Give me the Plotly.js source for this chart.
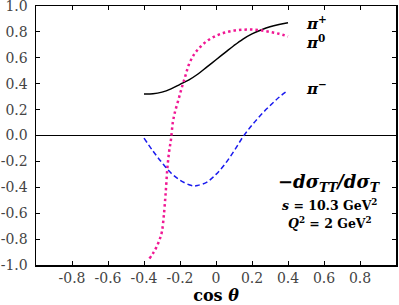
<!DOCTYPE html>
<html><head><meta charset="utf-8">
<script src="https://cdn.plot.ly/plotly-3.0.1.min.js"></script>
<style>html,body{margin:0;padding:0;background:#fff}</style>
</head><body><div id="chart" style="width:399px;height:305px"></div>
<script>
const xPiPlus = [-0.4,-0.35,-0.3,-0.25,-0.2,-0.15,-0.1,-0.05,0,0.05,0.1,0.15,0.2,0.25,0.3,0.35,0.4];
const yPiPlus = [0.32,0.322,0.335,0.36,0.395,0.43,0.475,0.53,0.585,0.64,0.695,0.745,0.785,0.815,0.84,0.857,0.87];

const xPiZero = [-0.37,-0.35,-0.33,-0.31,-0.30,-0.29,-0.28,-0.27,-0.26,-0.25,-0.24,-0.23,-0.21,-0.19,-0.17,-0.15,-0.12,-0.09,-0.05,0,0.05,0.1,0.15,0.2,0.25,0.3,0.35,0.4];
const yPiZero = [-0.95,-0.91,-0.86,-0.79,-0.74,-0.62,-0.45,-0.25,-0.12,-0.03,0.10,0.17,0.27,0.37,0.46,0.55,0.63,0.68,0.73,0.77,0.795,0.81,0.817,0.818,0.812,0.80,0.785,0.765];

const xPiMinus = [-0.4,-0.35,-0.3,-0.25,-0.2,-0.15,-0.12,-0.1,-0.05,0,0.05,0.1,0.15,0.2,0.25,0.3,0.35,0.4];
const yPiMinus = [-0.02,-0.12,-0.21,-0.29,-0.345,-0.38,-0.39,-0.385,-0.36,-0.30,-0.22,-0.12,-0.01,0.08,0.16,0.23,0.295,0.35];

const xTickVals = [-0.8,-0.6,-0.4,-0.2,0,0.2,0.4,0.6,0.8];
const xTickText = ["-0.8","-0.6","-0.4","-0.2","0","0.2","0.4","0.6","0.8"];
const yTickVals = [1,0.8,0.6,0.4,0.2,0,-0.2,-0.4,-0.6,-0.8,-1];
const yTickText = ["1.0","0.8","0.6","0.4","0.2","0.0","-0.2","-0.4","-0.6","-0.8","-1.0"];

const seriesLabels = ["<i>π</i><sup>+</sup>","<i>π</i><sup>0</sup>","<i>π</i><sup>−</sup>"];
const labelX = [0.49,0.49,0.49];
const labelY = [0.87,0.72,0.37];

const serif = "DejaVu Serif";

const traces = [
  {x:xPiPlus,y:yPiPlus,mode:'lines',line:{color:'#000',width:1.5,shape:'spline'},hoverinfo:'skip'},
  {x:xPiZero,y:yPiZero,mode:'lines',line:{color:'#f01894',width:2.5,dash:'2.5px,3px',shape:'spline'},hoverinfo:'skip'},
  {x:xPiMinus,y:yPiMinus,mode:'lines',line:{color:'#1a1aee',width:1.5,dash:'5px,3px',shape:'spline'},hoverinfo:'skip'}
];

const ann = seriesLabels.map((t,i)=>({x:labelX[i],y:labelY[i],xref:'x',yref:'y',text:'<b>'+t+'</b>',showarrow:false,xanchor:'left',font:{family:serif,size:15,color:'#000'}}));
ann.push({x:0.633,y:-0.37,xref:'x',yref:'y',text:'<b><i>−dσ<sub>TT</sub>/dσ<sub>T</sub></i></b>',showarrow:false,font:{family:serif,size:18,color:'#000'}});
ann.push({x:0.633,y:-0.534,xref:'x',yref:'y',text:'<b><i>s</i> = 10.3 GeV<sup>2</sup></b>',showarrow:false,font:{family:serif,size:12.5,color:'#000'}});
ann.push({x:0.633,y:-0.673,xref:'x',yref:'y',text:'<b><i>Q</i><sup>2</sup> = 2 GeV<sup>2</sup></b>',showarrow:false,font:{family:serif,size:12.5,color:'#000'}});

const layout = {
  width:399,height:305,
  margin:{l:36,r:3,t:6,b:40},
  paper_bgcolor:'#fff',plot_bgcolor:'#fff',
  showlegend:false,
  font:{family:serif,size:14,color:'#000'},
  xaxis:{range:[-1,1],tickvals:xTickVals,ticktext:xTickText,ticks:'inside',ticklen:4,tickcolor:'#000',
    showline:true,linecolor:'#000',linewidth:1.5,mirror:'ticks',showgrid:false,zeroline:false,
    tickfont:{family:serif,size:14,color:'#444'},ticklabeloverflow:'allow',
    title:{text:'<b>cos <i>θ</i></b>',font:{family:serif,size:16,color:'#000'},standoff:9}},
  yaxis:{range:[-1,1],tickvals:yTickVals,ticktext:yTickText,ticks:'inside',ticklen:4,tickcolor:'#000',
    showline:true,linecolor:'#000',linewidth:1.5,mirror:'ticks',showgrid:false,
    zeroline:true,zerolinecolor:'#000',zerolinewidth:1,ticklabeloverflow:'allow',
    tickfont:{family:serif,size:14,color:'#444'},ticklabelstandoff:4},
  annotations:ann
};
Plotly.newPlot('chart',traces,layout,{staticPlot:true,displayModeBar:false});
</script></body></html>
